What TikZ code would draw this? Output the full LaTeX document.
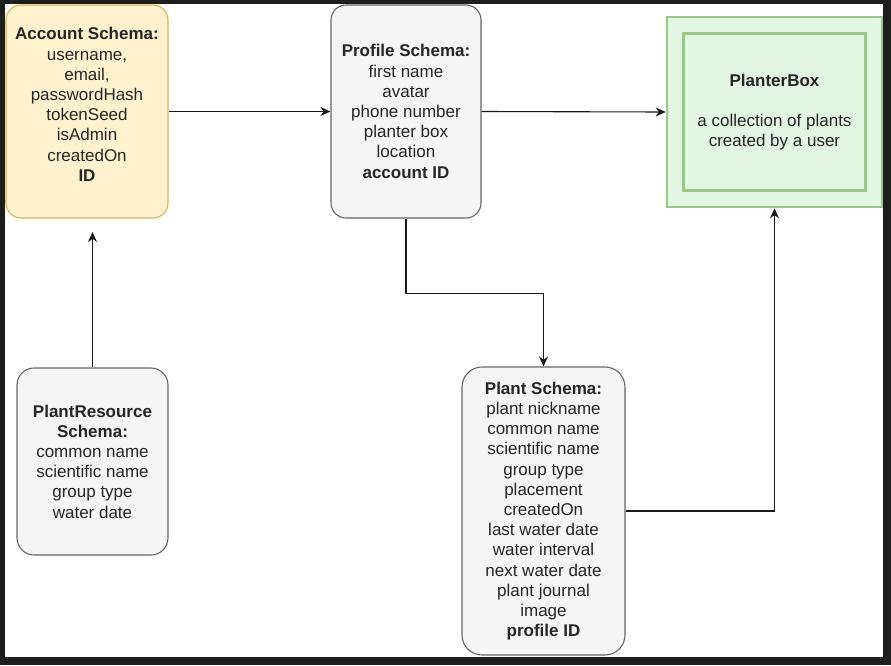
\documentclass[tikz,border=0pt]{standalone}
\usepackage{fontspec}
\setmainfont{Liberation Sans}
\usetikzlibrary{arrows.meta}
\definecolor{frame}{HTML}{1E1E1E}
\definecolor{accfill}{HTML}{FFF2CC}
\definecolor{accline}{HTML}{D6B656}
\definecolor{grayfill}{HTML}{F5F5F5}
\definecolor{grayline}{HTML}{666666}
\definecolor{greenfill}{HTML}{E2F7E1}
\definecolor{greenline}{HTML}{97C987}
\tikzset{
  txt/.style={font=\fontsize{17}{20.2}\selectfont, align=center, text=black!85, inner sep=0pt},
  schemabox/.style={draw=grayline, fill=grayfill, line width=1.1pt, inner sep=0pt, txt},
  accbox/.style={draw=accline, fill=accfill, line width=1.1pt, inner sep=0pt},
  greenbox/.style={draw=greenline, fill=greenfill, line width=2.6pt, inner sep=0pt},
  conn/.style={draw=black!90, line width=1.1pt, -{Stealth[length=10pt,width=9pt]}},
}
\begin{document}
\begin{tikzpicture}[x=1pt,y=-1pt]
\fill[frame] (0,0) rectangle (891,665);
\fill[white] (5,4) rectangle (883,657);
\useasboundingbox (0,0) rectangle (891,665);

% Account schema
\node[accbox, rounded corners=15pt, minimum width=162pt, minimum height=213pt] (acc) at (87,111.5) {};
\node[txt] (acctxt) at (87,104.5) {\textbf{Account Schema:}\\username,\\email,\\passwordHash\\tokenSeed\\isAdmin\\createdOn\\\textbf{ID}};

% Profile schema
\node[schemabox, rounded corners=15pt, minimum width=150pt, minimum height=213pt] (prof) at (406,111.5)
  {\textbf{Profile Schema:}\\first name\\avatar\\phone number\\planter box\\location\\\textbf{account ID}};

% PlanterBox
\node[greenbox, minimum width=215pt, minimum height=190pt] (pbox) at (774.5,112) {};
\node[greenbox, minimum width=182pt, minimum height=157pt, txt] (pboxin) at (774.5,112)
  {\textbf{PlanterBox}\\[20.2pt]a collection of plants\\created by a user};

% PlantResource schema
\node[schemabox, rounded corners=17pt, minimum width=151pt, minimum height=187pt] (pres) at (92.5,461.5)
  {\textbf{PlantResource}\\\textbf{Schema:}\\common name\\scientific name\\group type\\water date};

% Plant schema
\node[schemabox, rounded corners=20pt, minimum width=163pt, minimum height=288pt] (plant) at (543.5,511)
  {\textbf{Plant Schema:}\\plant nickname\\common name\\scientific name\\group type\\placement\\createdOn\\last water date\\water interval\\next water date\\plant journal\\image\\\textbf{profile ID}};

% connectors
\coordinate (accend) at (92.5,232);
\draw[conn] (acc.east) -- (prof.west);
\draw[conn] (prof.east) -- (pbox.west);
\draw[conn] (pres.north) -- (accend);
\draw[conn] (prof.south) -- ++(0,75) -| (plant.north);
\draw[conn] (plant.east) -| (pbox.south);
\end{tikzpicture}
\end{document}
